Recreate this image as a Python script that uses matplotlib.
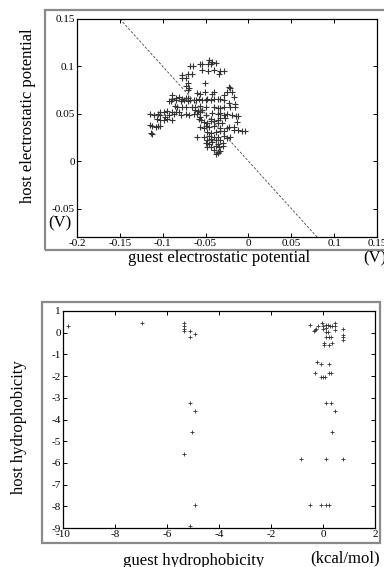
import matplotlib
matplotlib.use('Agg')
import matplotlib.pyplot as plt
from matplotlib.patches import Rectangle
from matplotlib.ticker import FuncFormatter

plt.rcParams['font.family'] = ['Liberation Serif', 'DejaVu Serif']

# guest / host electrostatic potential (V)
elec_guest = [
    -0.057, -0.054, -0.046, -0.043, -0.038, -0.047, -0.044,
    -0.068, -0.065, -0.054, -0.047, -0.040, -0.033, -0.029,
    -0.077, -0.071, -0.066, -0.077, -0.073, -0.034,
    -0.071, -0.073, -0.069, -0.071, -0.051,
    -0.023, -0.021, -0.019, -0.025,
    -0.060, -0.056, -0.051, -0.043, -0.040, -0.017, -0.028,
    -0.089, -0.089, -0.085, -0.081, -0.077, -0.073, -0.070, -0.068,
    -0.093, -0.090, -0.085, -0.079, -0.075, -0.071,
    -0.064, -0.061, -0.058, -0.054, -0.050,
    -0.048, -0.044, -0.040, -0.036, -0.033,
    -0.028, -0.023, -0.016,
    -0.086, -0.083, -0.077, -0.073,
    -0.066, -0.062, -0.056, -0.050,
    -0.040, -0.036, -0.033, -0.029,
    -0.021, -0.016,
    -0.062, -0.059, -0.056, -0.054,
    -0.103, -0.099, -0.095, -0.089, -0.085, -0.081,
    -0.115, -0.110, -0.106,
    -0.103, -0.097, -0.093, -0.087, -0.079, -0.073, -0.069,
    -0.064, -0.060, -0.056, -0.050,
    -0.042, -0.036, -0.033, -0.029, -0.025, -0.019, -0.015, -0.012,
    -0.044, -0.036, -0.033, -0.027,
    -0.013,
    -0.107, -0.103, -0.099, -0.095, -0.089,
    -0.058, -0.055, -0.052, -0.048,
    -0.044, -0.040, -0.036, -0.031,
    -0.023, -0.017,
    -0.115, -0.112, -0.108, -0.106, -0.103,
    -0.114, -0.112,
    -0.056, -0.052, -0.050, -0.046, -0.040,
    -0.033, -0.025, -0.017, -0.012, -0.007, -0.004,
    -0.048, -0.044, -0.038, -0.033, -0.029,
    -0.060, -0.052, -0.046, -0.040, -0.036, -0.029,
    -0.048, -0.044, -0.038, -0.033, -0.025, -0.021,
    -0.050, -0.046, -0.042, -0.036, -0.030,
    -0.048, -0.044, -0.038, -0.034, -0.030,
    -0.040, -0.036, -0.033,
    -0.038, -0.035,
]
elec_host = [
    0.103, 0.103, 0.107, 0.105, 0.104, 0.102, 0.103,
    0.100, 0.100, 0.096, 0.095, 0.096, 0.095, 0.095,
    0.091, 0.092, 0.092, 0.088, 0.088, 0.092,
    0.083, 0.079, 0.077, 0.075, 0.082,
    0.078, 0.077, 0.073, 0.073,
    0.072, 0.071, 0.073, 0.071, 0.073, 0.068, 0.070,
    0.070, 0.066, 0.067, 0.068, 0.066, 0.067, 0.067, 0.065,
    0.063, 0.063, 0.065, 0.064, 0.065, 0.064,
    0.065, 0.065, 0.066, 0.065, 0.065,
    0.066, 0.065, 0.066, 0.066, 0.066,
    0.065, 0.061, 0.060,
    0.058, 0.057, 0.057, 0.057,
    0.057, 0.057, 0.058, 0.057,
    0.057, 0.056, 0.056, 0.057,
    0.057, 0.057,
    0.054, 0.053, 0.052, 0.054,
    0.052, 0.052, 0.053, 0.052, 0.052, 0.052,
    0.050, 0.049, 0.050,
    0.049, 0.047, 0.049, 0.050, 0.049, 0.050, 0.049,
    0.050, 0.050, 0.047, 0.049,
    0.051, 0.050, 0.051, 0.049, 0.050, 0.049, 0.048, 0.048,
    0.045, 0.043, 0.046, 0.046,
    0.041,
    0.045, 0.043, 0.043, 0.044, 0.043,
    0.045, 0.043, 0.041, 0.040,
    0.042, 0.042, 0.040, 0.040,
    0.036, 0.036,
    0.038, 0.037, 0.036, 0.037, 0.037,
    0.030, 0.029,
    0.036, 0.035, 0.037, 0.036, 0.037,
    0.035, 0.035, 0.033, 0.033, 0.032, 0.032,
    0.031, 0.030, 0.031, 0.032, 0.032,
    0.026, 0.026, 0.027, 0.025, 0.026, 0.027,
    0.022, 0.023, 0.022, 0.022, 0.024, 0.025,
    0.019, 0.018, 0.020, 0.018, 0.019,
    0.015, 0.015, 0.016, 0.015, 0.016,
    0.012, 0.010, 0.011,
    0.008, 0.009,
]

# guest / host hydrophobicity (kcal/mol)
hyd_guest = [
    -9.82, -6.97, -5.35, -5.35, -5.35, -5.35, -5.10, -4.94, -5.10,
    -5.10, -4.93, -5.04, -5.35, -4.93, -5.10,
    -0.51, -0.32, -0.36, -0.28, -0.19, -0.04, 0.00, 0.00, 0.13, 0.13,
    0.19, 0.28, 0.36, 0.45, 0.45, 0.45, 0.10, 0.19, 0.13, 0.23, 0.32,
    0.77, 0.77, 0.77, 0.77, 0.03, 0.03, 0.23, 0.35,
    -0.22, -0.06, 0.23, -0.31, -0.06, 0.00, 0.08, 0.23, 0.32,
    0.13, 0.30, 0.46, 0.35,
    -0.83, 0.13, 0.77,
    -0.51, -0.06, 0.13, 0.23,
]
hyd_host = [
    0.31, 0.46, 0.46, 0.29, 0.18, 0.06, 0.08, -0.05, -0.20,
    -3.26, -3.63, -4.59, -5.60, -7.93, -8.90,
    0.37, 0.14, 0.10, 0.18, 0.29, 0.46, 0.29, 0.18, 0.37, 0.21,
    0.34, 0.31, 0.31, 0.46, 0.29, 0.14, 0.03, 0.03, -0.20, -0.20, -0.20,
    0.18, -0.09, -0.20, -0.35, -0.46, -0.58, -0.58, -0.46,
    -1.36, -1.45, -1.45, -1.87, -2.02, -2.02, -2.02, -1.87, -1.87,
    -3.26, -3.26, -3.63, -4.59,
    -5.83, -5.83, -5.83,
    -7.93, -7.93, -7.93, -7.93,
]

W, H = 384, 567
fig = plt.figure(figsize=(W / 100, H / 100), dpi=100)


def fx(px):
    return px / W


def fy(py):
    return 1 - py / H


def fmt(v, pos):
    return '%g' % round(v, 4)


# grey panel frames
fig.add_artist(Rectangle((fx(45), fy(250)), fx(400 - 45), (250 - 10) / H,
                         transform=fig.transFigure, fill=False, ec='#8a8a8a', lw=1.6))
fig.add_artist(Rectangle((fx(42), fy(543)), fx(380 - 42), (543 - 302) / H,
                         transform=fig.transFigure, fill=False, ec='#8a8a8a', lw=1.6))

# top panel
ax1 = fig.add_axes([fx(77), fy(237), fx(377 - 77), (237 - 19) / H])
ax1.scatter(elec_guest, elec_host, marker='+', s=16, c='#333333', linewidths=0.8)
ax1.plot([-0.15, 0.08], [0.15, -0.08], color='#444444', lw=0.6, ls=(0, (3, 2)))
ax1.set_xlim(-0.2, 0.15)
ax1.set_ylim(-0.08, 0.15)
ax1.set_xticks([-0.2, -0.15, -0.1, -0.05, 0, 0.05, 0.1, 0.15])
ax1.set_yticks([-0.05, 0, 0.05, 0.1, 0.15])

# bottom panel
ax2 = fig.add_axes([fx(63), fy(528), fx(375 - 63), (528 - 311) / H])
ax2.scatter(hyd_guest, hyd_host, marker='+', s=10, c='#333333', linewidths=0.6)
ax2.set_xlim(-10, 2)
ax2.set_ylim(-9, 1)
ax2.set_xticks(range(-10, 3, 2))
ax2.set_yticks(range(-9, 2))

for ax in (ax1, ax2):
    ax.tick_params(direction='in', top=True, right=True, length=3, width=0.7,
                   labelsize=8, pad=1.5)
    ax.xaxis.set_major_formatter(FuncFormatter(fmt))
    ax.yaxis.set_major_formatter(FuncFormatter(fmt))
    for sp in ax.spines.values():
        sp.set_linewidth(0.9)

fig.text(fx(28), fy(116), 'host electrostatic potential', rotation=90,
         ha='center', va='center', fontsize=12)
fig.text(fx(60), fy(223), '(V)', ha='center', va='center', fontsize=12)
fig.text(fx(219), fy(258), 'guest electrostatic potential', ha='center',
         va='center', fontsize=12)
fig.text(fx(363), fy(258), '(V)', ha='left', va='center', fontsize=12)

fig.text(fx(19), fy(427), 'host hydrophobicity', rotation=90,
         ha='center', va='center', fontsize=12)
fig.text(fx(194), fy(561), 'guest hydrophobicity', ha='center',
         va='center', fontsize=12)
fig.text(fx(345), fy(558), '(kcal/mol)', ha='center', va='center', fontsize=12)

fig.savefig('out.png', dpi=100)
